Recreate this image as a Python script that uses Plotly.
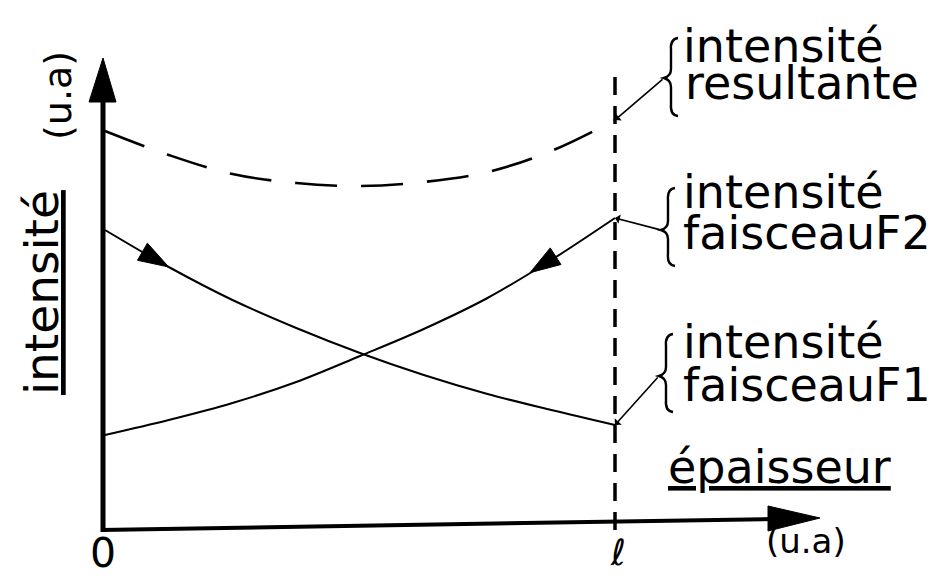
import plotly.graph_objects as go

# epaisseur (u.a), l = 1
thickness = [0.0, 0.125, 0.25, 0.375, 0.5, 0.625, 0.75, 0.875, 1.0]
# intensite (u.a)
intens_f1 = [2.98, 2.61, 2.28, 2.00, 1.75, 1.53, 1.34, 1.18, 1.03]
intens_f2 = [0.93, 1.08, 1.25, 1.46, 1.72, 1.99, 2.30, 2.68, 3.10]
intens_res = [3.97, 3.73, 3.54, 3.45, 3.42, 3.46, 3.56, 3.77, 4.08]

label_res = ["intensité", "resultante"]
label_f2 = ["intensité", "faisceauF2"]
label_f1 = ["intensité", "faisceauF1"]

W, H = 939, 578
FONT = "DejaVu Sans"
INK = "black"


# layout helpers: page pixel -> data units (x: 510 px per unit, y: 100 px per unit)
def X(px):
    return (px - 97) / 510


def Y(py):
    return (520 - py) / 100


def brace(x, top, mid, bot):
    # left-pointing curly brace, pixel coords
    pts = (f"M {X(x+10)},{Y(top)} Q {X(x+2)},{Y(top+1)} {X(x+3)},{Y(top+12)} "
           f"L {X(x+3)},{Y(mid-9)} Q {X(x+3)},{Y(mid-2)} {X(x-4)},{Y(mid)} "
           f"Q {X(x+3)},{Y(mid+2)} {X(x+3)},{Y(mid+9)} "
           f"L {X(x+3)},{Y(bot-12)} Q {X(x+2)},{Y(bot-1)} {X(x+10)},{Y(bot)}")
    return dict(type="path", path=pts, xref="x", yref="y",
                line=dict(color=INK, width=2.4))


fig = go.Figure()

fig.add_trace(go.Scatter(x=thickness, y=intens_res, mode="lines",
                         line=dict(color=INK, width=2.6, dash="42px,24px",
                                   shape="spline", smoothing=1.0)))
fig.add_trace(go.Scatter(x=thickness, y=intens_f1, mode="lines",
                         line=dict(color=INK, width=2, shape="spline")))
fig.add_trace(go.Scatter(x=thickness, y=intens_f2, mode="lines",
                         line=dict(color=INK, width=2, shape="spline")))

# direction arrows on the beams
arrow_marker = dict(symbol="arrow", size=[0, 32], color=INK, opacity=1,
                    angleref="previous", line=dict(color=INK, width=1))
fig.add_trace(go.Scatter(x=[thickness[0], thickness[1]], y=[intens_f1[0], intens_f1[1]],
                         mode="markers", marker=arrow_marker))
fig.add_trace(go.Scatter(x=[thickness[8], (thickness[6] + 2 * thickness[7]) / 3],
                         y=[intens_f2[8], (intens_f2[6] + 2 * intens_f2[7]) / 3],
                         mode="markers", marker=arrow_marker))

shapes = [
    # y axis + head
    dict(type="line", xref="x", yref="y", x0=X(95), y0=Y(524), x1=X(95), y1=Y(90),
         line=dict(color=INK, width=5)),
    dict(type="path", xref="x", yref="y", fillcolor=INK, line=dict(color=INK, width=1),
         path=f"M {X(81)},{Y(94)} L {X(95)},{Y(50)} L {X(108)},{Y(94)} Z"),
    # x axis + head
    dict(type="line", xref="x", yref="y", x0=X(93), y0=Y(522), x1=X(765), y1=Y(511),
         line=dict(color=INK, width=4)),
    dict(type="path", xref="x", yref="y", fillcolor=INK, line=dict(color=INK, width=1),
         path=f"M {X(760)},{Y(498)} L {X(812)},{Y(510)} L {X(760)},{Y(523)} Z"),
    # l marker
    dict(type="line", xref="x", yref="y", x0=thickness[-1], x1=thickness[-1],
         y0=Y(522), y1=Y(64), line=dict(color=INK, width=3.5, dash="18px,11px")),
    brace(660, 30, 70, 108),
    brace(657, 180, 222, 258),
    brace(655, 326, 368, 404),
]

ann = []


def txt(x, y, s, size=46, **kw):
    d = dict(x=X(x), y=Y(y), xref="x", yref="y", text=s, showarrow=False,
             font=dict(family=FONT, size=size, color=INK),
             xanchor="left", yanchor="middle")
    d.update(kw)
    ann.append(d)


txt(673, 38, label_res[0])
txt(675, 75, label_res[1])
txt(673, 184, label_f2[0])
txt(673, 225, label_f2[1])
txt(673, 334, label_f1[0])
txt(673, 377, label_f1[1])

ann.append(dict(x=X(658), y=Y(459), xref="x", yref="y", text="épaisseur",
                showarrow=False, xanchor="left", yanchor="middle",
                font=dict(family=FONT, size=46, color=INK, lineposition="under")))
ann.append(dict(x=X(33), y=Y(285), xref="x", yref="y", text="intensité",
                showarrow=False, textangle=-90, xanchor="center", yanchor="middle",
                font=dict(family=FONT, size=47, color=INK, lineposition="under")))
txt(50, 88, "(u.a)", size=38, textangle=-90, xanchor="center")
txt(798, 533, "(u.a)", size=34, xanchor="center")
txt(95, 545, "0", size=41, xanchor="center")
txt(610, 544, "ℓ", size=36, xanchor="center")

# connectors from the labels to the curve ends
for ys, (tx, ty) in [(intens_res, (656, 70)), (intens_f2, (653, 222)), (intens_f1, (651, 368))]:
    ann.append(dict(x=thickness[-1], y=ys[-1], xref="x", yref="y",
                    ax=X(tx), ay=Y(ty), axref="x", ayref="y", text="",
                    showarrow=True, arrowhead=1, arrowsize=1, arrowwidth=1.6,
                    arrowcolor=INK, standoff=0))

fig.update_layout(
    width=W, height=H, autosize=False,
    margin=dict(l=0, r=0, t=0, b=0),
    paper_bgcolor="white", plot_bgcolor="white",
    showlegend=False,
    xaxis=dict(range=[X(0), X(W)], visible=False, fixedrange=True),
    yaxis=dict(range=[Y(H), Y(0)], visible=False, fixedrange=True),
    shapes=shapes,
    annotations=ann,
)

fig.write_html("out.html")
